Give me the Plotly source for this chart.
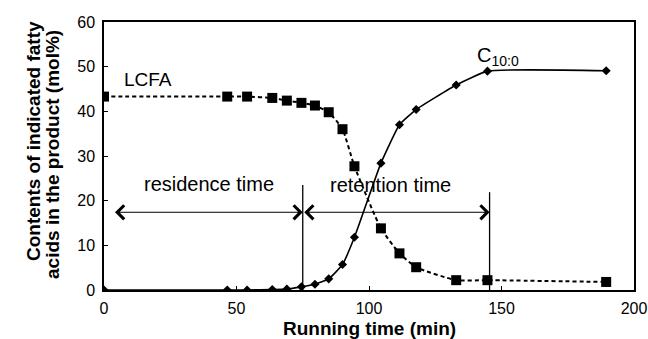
import plotly.graph_objects as go

# Data
time_min = [0, 46.5, 54, 63.5, 69, 74.5, 79.6, 84.8, 90, 94.5, 104.5, 111.5, 117.8, 132.9, 144.7, 189.5]
lcfa = [43.3, 43.3, 43.3, 43.0, 42.4, 41.9, 41.3, 39.8, 36.0, 27.7, 13.8, 8.2, 5.1, 2.2, 2.2, 1.8]
c10 = [0.0, 0.0, 0.0, 0.1, 0.2, 0.7, 1.3, 2.5, 5.7, 11.8, 28.4, 37.0, 40.4, 45.9, 49.0, 49.1]

residence_start = 3.6
residence_end = 75
retention_end = 145.5
arrow_level = 17.4
marker_line_tops = [23.5, 21.9]

x_ticks = [0, 50, 100, 150, 200]
y_ticks = [0, 10, 20, 30, 40, 50, 60]

FONT = "Liberation Sans, Arial, sans-serif"

fig = go.Figure()

fig.add_trace(go.Scatter(
    x=time_min, y=lcfa, mode="lines+markers", name="LCFA",
    line=dict(color="black", width=2, dash="4px,3px", shape="spline", smoothing=0.5),
    marker=dict(symbol="square", size=10, color="black"),
    showlegend=False,
))
fig.add_trace(go.Scatter(
    x=time_min, y=c10, mode="lines+markers", name="C10:0",
    line=dict(color="black", width=1.6, shape="spline", smoothing=0.4),
    marker=dict(symbol="diamond", size=7, color="black"),
    showlegend=False,
))

# vertical marker lines
for xv, top in zip([residence_end, retention_end], marker_line_tops):
    fig.add_shape(type="line", x0=xv, x1=xv, y0=0, y1=top, xref="x", yref="y",
                  line=dict(color="black", width=1.3))

# double-headed arrows
for x0, x1 in [(residence_start, residence_end), (residence_end, retention_end)]:
    fig.add_annotation(x=x1, y=arrow_level, ax=x0, ay=arrow_level,
                       xref="x", yref="y", axref="x", ayref="y",
                       text="", showarrow=True, arrowside="end+start",
                       arrowhead=4, startarrowhead=4, arrowsize=2.7, startarrowsize=2.7,
                       arrowwidth=1, arrowcolor="black", standoff=0, startstandoff=0)

txt = dict(family=FONT, size=20, color="black")
fig.add_annotation(x=16.5, y=47.1, text="LCFA", showarrow=False, font=dict(family=FONT, size=19, color="black"),
                   xref="x", yref="y")
fig.add_annotation(x=148.5, y=52.3, text="C<sub>10:0</sub>", showarrow=False, font=txt, xref="x", yref="y")
fig.add_annotation(x=39.8, y=23.7, text="residence time", showarrow=False, font=txt, xref="x", yref="y")
fig.add_annotation(x=108.2, y=23.5, text="retention time", showarrow=False, font=txt, xref="x", yref="y")

bold = dict(family=FONT, size=19, color="black")
fig.add_annotation(x=0.5, y=-0.143, xref="paper", yref="paper", text="<b>Running time (min)</b>",
                   showarrow=False, font=bold, xanchor="center", yanchor="middle")
fig.add_annotation(x=-0.133, y=0.554, xref="paper", yref="paper", text="<b>Contents of indicated fatty</b>",
                   showarrow=False, font=bold, textangle=-90, xanchor="center", yanchor="middle")
fig.add_annotation(x=-0.097, y=0.506, xref="paper", yref="paper", text="<b>acids in the product (mol%)</b>",
                   showarrow=False, font=bold, textangle=-90, xanchor="center", yanchor="middle")

axis_common = dict(showline=True, linecolor="black", linewidth=1.5, mirror=True,
                   showgrid=False, zeroline=False, ticks="inside", ticklen=4,
                   tickcolor="black", tickfont=dict(family=FONT, size=16, color="black"),
                   automargin=False)
fig.update_xaxes(range=[0, 200], tickvals=x_ticks, ticklabelstandoff=3, **axis_common)
fig.update_yaxes(range=[0, 60], tickvals=y_ticks, ticklabelstandoff=4, **axis_common)

fig.update_layout(width=648, height=339, margin=dict(l=104, r=14, t=22, b=49),
                  plot_bgcolor="white", paper_bgcolor="white", showlegend=False)

fig.write_html("out.html")
